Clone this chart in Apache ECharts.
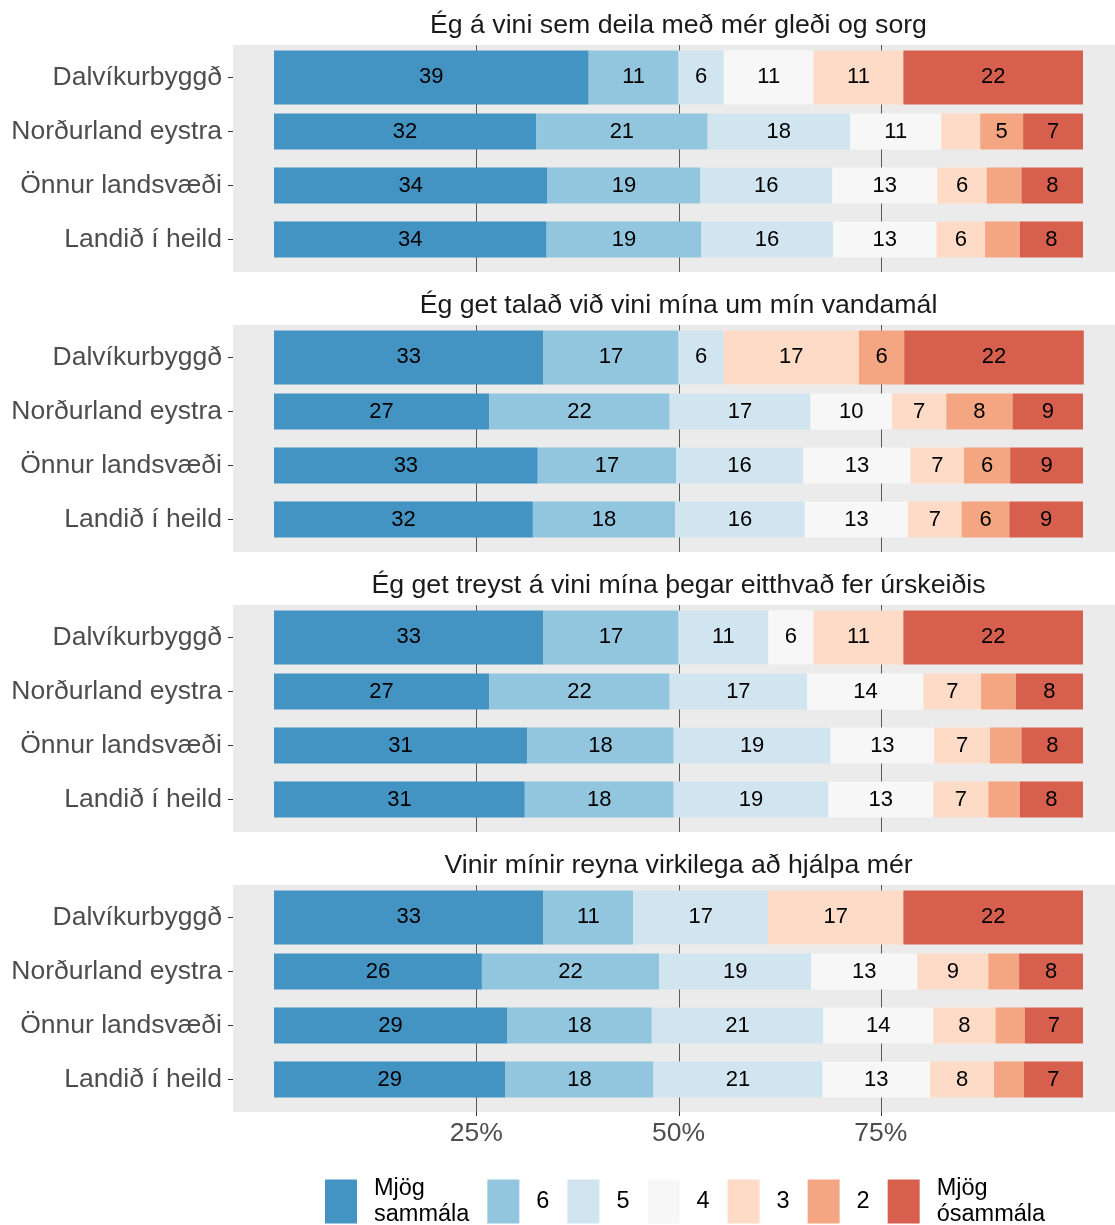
<!DOCTYPE html>
<html>
<head>
<meta charset="utf-8">
<script src="https://cdn.jsdelivr.net/npm/echarts@6/dist/echarts.min.js"></script>
<style>
html,body{margin:0;padding:0;background:#ffffff;}
#chart{width:1115px;height:1225px;}
</style>
</head>
<body>
<div id="chart"></div>
<script>
// ---------------- data ----------------
const categories = ['Dalvíkurbyggð', 'Norðurland eystra', 'Önnur landsvæði', 'Landið í heild'];
const questions = [
  'Ég á vini sem deila með mér gleði og sorg',
  'Ég get talað við vini mína um mín vandamál',
  'Ég get treyst á vini mína þegar eitthvað fer úrskeiðis',
  'Vinir mínir reyna virkilega að hjálpa mér'
];
const levels = ['Mjög sammála', '6', '5', '4', '3', '2', 'Mjög ósammála'];
const tickValues = [25, 50, 75];
const tickLabels = ['25%', '50%', '75%'];

// percentages per row (order of levels), rows in order of categories
const q1 = [
  [38.9, 11.1, 5.6, 11.1, 11.1, 0, 22.2],
  [32.4, 21.2, 17.6, 11.3, 4.8, 5.3, 7.4],
  [33.8, 18.9, 16.3, 13.0, 6.1, 4.3, 7.6],
  [33.7, 19.1, 16.3, 12.8, 6.0, 4.3, 7.8]
];
const q2 = [
  [33.3, 16.7, 5.6, 0, 16.7, 5.6, 22.2],
  [26.6, 22.3, 17.4, 10.1, 6.7, 8.2, 8.7],
  [32.6, 17.1, 15.7, 13.3, 6.6, 5.7, 9.0],
  [32.0, 17.6, 16.0, 12.8, 6.6, 5.9, 9.1]
];
const q3 = [
  [33.3, 16.7, 11.1, 5.6, 11.1, 0, 22.2],
  [26.6, 22.3, 17.0, 14.4, 7.1, 4.3, 8.3],
  [31.3, 18.1, 19.4, 12.8, 6.9, 3.9, 7.6],
  [31.0, 18.4, 19.1, 13.0, 6.8, 3.9, 7.8]
];
const q4 = [
  [33.3, 11.1, 16.7, 0, 16.7, 0, 22.2],
  [25.7, 21.9, 18.8, 13.1, 8.8, 3.8, 7.9],
  [28.8, 17.9, 21.2, 13.6, 7.7, 3.6, 7.2],
  [28.6, 18.3, 20.9, 13.3, 7.9, 3.7, 7.3]
];
const panelValues = [q1, q2, q3, q4];

// ---------------- style / layout ----------------
const colors = ['#4393c3', '#92c5de', '#d1e5f0', '#f7f7f7', '#fddbc7', '#f4a582', '#d6604d'];
const FONT = '"Liberation Sans", Arial, Helvetica, sans-serif';
const W = 1115;
const PANEL_LEFT = 233, PANEL_RIGHT = 1124, PANEL_TOP0 = 45, PANEL_H = 227, PANEL_STEP = 280;
const ZERO_PX = 274, HUNDRED_PX = 1083;
const PX_PER_PCT = (HUNDRED_PX - ZERO_PX) / 100;
const X_MIN = -(ZERO_PX - PANEL_LEFT) / PX_PER_PCT;
const X_MAX = X_MIN + (W - PANEL_LEFT) / PX_PER_PCT;
const EXP = 0.6;
const nRows = categories.length;
const unit = PANEL_H / (nRows - 1 + 2 * EXP);
const PAD = (EXP - 0.5) * unit;
const WIDE = 1.0, NARROW = 0.667;

const chart = echarts.init(document.getElementById('chart'), null, {renderer: 'canvas'});

const grids = [], xAxes = [], yAxes = [], series = [], graphics = [];

function renderSeg(params, api) {
  const row = api.value(0), s = api.value(1), e = api.value(2), v = api.value(3);
  if (!(e > s)) return null;
  const a = api.coord([s, row]);
  const b = api.coord([e, row]);
  const band = api.size([0, 1])[1];
  const h = band * (row === 0 ? WIDE : NARROW);
  const children = [{
    type: 'rect',
    shape: {x: a[0], y: a[1] - h / 2, width: b[0] - a[0], height: h},
    style: {fill: api.visual('color')}
  }];
  if (v >= 5) {
    children.push({
      type: 'text',
      style: {
        text: String(Math.round(v)), x: (a[0] + b[0]) / 2, y: a[1],
        align: 'center', verticalAlign: 'middle', fill: '#000000',
        font: '22px ' + FONT
      }
    });
  }
  return {type: 'group', children: children};
}

function renderGridLine(params, api) {
  const x = Math.round(api.coord([api.value(0), 0])[0]) + 0.5;
  const withTick = api.value(2) === 1;
  const cs = params.coordSys;
  const pad = (EXP - 0.5) * api.size([0, 1])[1];
  const yTop = cs.y - pad, yBot = cs.y + cs.height + pad;
  const children = [{
    type: 'line',
    shape: {x1: x, y1: yTop, x2: x, y2: yBot},
    style: {stroke: '#5a5a5a', lineWidth: 1}
  }];
  if (withTick) {
    children.push({
      type: 'line',
      shape: {x1: x, y1: yBot, x2: x, y2: yBot + 4},
      style: {stroke: '#333333', lineWidth: 1}
    });
  }
  return {type: 'group', children: children};
}

panelValues.forEach((rows, p) => {
  const pTop = PANEL_TOP0 + p * PANEL_STEP;
  const isLast = p === panelValues.length - 1;
  graphics.push({
    type: 'rect', z: 0, silent: true,
    shape: {x: PANEL_LEFT, y: pTop, width: PANEL_RIGHT - PANEL_LEFT, height: PANEL_H},
    style: {fill: '#ebebeb'}
  });
  graphics.push({
    type: 'text', z: 0, silent: true,
    x: (PANEL_LEFT + PANEL_RIGHT) / 2, y: pTop - 19,
    style: {text: questions[p], font: '26.7px ' + FONT, fill: '#1a1a1a', align: 'center', verticalAlign: 'middle'}
  });

  grids.push({
    left: PANEL_LEFT, right: 0,
    top: pTop + PAD, height: nRows * unit,
    containLabel: false
  });

  xAxes.push({
    gridIndex: p, type: 'value', min: X_MIN, max: X_MAX,
    show: isLast,
    offset: PAD,
    axisLine: {show: false, onZero: false},
    splitLine: {show: false},
    axisTick: {show: false},
    axisLabel: {
      show: isLast, customValues: tickValues, margin: 8,
      fontSize: 26.5, fontFamily: FONT, color: '#4d4d4d',
      formatter: (v) => { const i = tickValues.indexOf(v); return i >= 0 ? tickLabels[i] : ''; }
    }
  });

  yAxes.push({
    gridIndex: p, type: 'category', data: categories, inverse: true,
    axisLine: {show: false, onZero: false},
    splitLine: {show: false},
    axisTick: {show: true, alignWithLabel: true, length: 5, lineStyle: {color: '#333333', width: 1}},
    axisLabel: {fontSize: 26.5, fontFamily: FONT, color: '#4d4d4d', margin: 11}
  });

  series.push({
    type: 'custom', name: '_grid', xAxisIndex: p, yAxisIndex: p, z: 3, silent: true,
    renderItem: renderGridLine,
    data: tickValues.map(v => [v, 0, isLast ? 1 : 0]),
    encode: {x: 0, y: 1}
  });

  levels.forEach((lev, k) => {
    const data = rows.map((vals, r) => {
      let start = 0;
      for (let j = 0; j < k; j++) start += vals[j];
      return [r, start, start + vals[k], vals[k]];
    });
    series.push({
      type: 'custom', name: lev, xAxisIndex: p, yAxisIndex: p, z: 4,
      itemStyle: {color: colors[k]},
      renderItem: renderSeg,
      data: data,
      encode: {x: [1, 2], y: 0}
    });
  });
});

const option = {
  animation: false,
  backgroundColor: '#ffffff',
  textStyle: {fontFamily: FONT},
  grid: grids,
  xAxis: xAxes,
  yAxis: yAxes,
  series: series,
  graphic: {elements: graphics},
  legend: {
    data: levels,
    icon: 'rect',
    orient: 'horizontal',
    left: 325, top: 1175.5,
    padding: 0,
    itemWidth: 32, itemHeight: 44, itemGap: 18,
    selectedMode: false,
    formatter: (name) => name.replace(' ', '\n'),
    textStyle: {fontSize: 23.5, fontFamily: FONT, color: '#000000', lineHeight: 26, padding: [0, 0, 0, 12]}
  }
};
chart.setOption(option);
</script>
</body>
</html>
